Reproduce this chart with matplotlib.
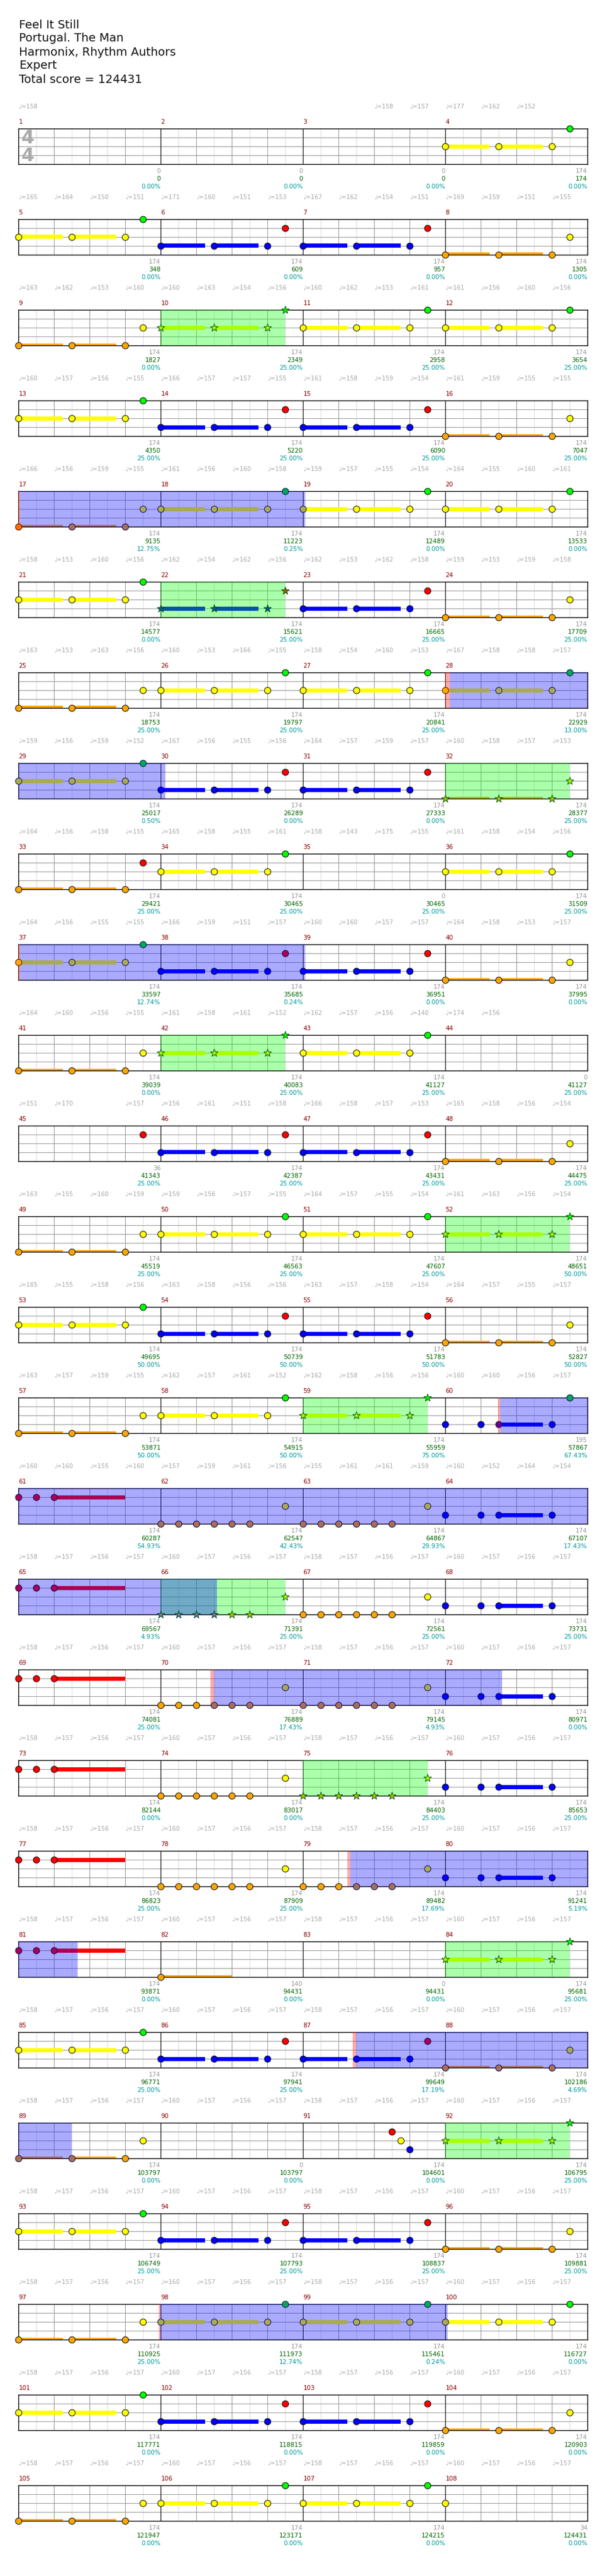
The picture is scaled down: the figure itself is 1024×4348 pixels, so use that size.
import matplotlib
matplotlib.use("Agg")
import matplotlib.pyplot as plt
import matplotlib.transforms as mtransforms
from matplotlib.patches import Rectangle
import matplotlib.colors as mcolors

W, H, DPI = 1024, 4348, 100
STAFF_LEFT, STAFF_W, STAFF_H = 31, 960, 60
ROW0_TOP, ROW_STEP = 217, 153
N_ROWS = 27
BEATS_PER_ROW = 16
BEATS_PER_MEASURE = 4

title_lines = ["Feel It Still", "Portugal. The Man", "Harmonix, Rhythm Authors",
               "Expert", "Total score = 124431"]

# ---- note patterns (lane letter + beat in measure, 's' = sustain of 1.25 beats, 'sL' = length L)
YG = "Y0s Y1.5s Y3 G3.5"
BR = "B0s B1.5s B3 R3.5"
OY = "O0s O1.5s O3 Y3.5"
OR = "O0s O1.5s O3 R3.5"
CR = "R0 R0.5 R1s2"
CO = "O0 O0.5 O1 O1.5 O2 O2.5 Y3.5"
CB = "B0 B1 B1.5s B3"

measure_notes = [
    "", "", "", YG,
    YG, BR, BR, OY,
    OY, YG, YG, YG,
    YG, BR, BR, OY,
    OY, YG, YG, YG,
    YG, BR, BR, OY,
    OY, YG, YG, YG,
    YG, BR, BR, OY,
    OR, YG, "", YG,
    YG, BR, BR, OY,
    OY, YG, YG, "",
    "R3.5", BR, BR, OY,
    OY, YG, YG, YG,
    YG, BR, BR, OY,
    OY, YG, YG, "B0 B1 B1.5s B3 G3.5",
    CR, CO, CO, CB,
    CR, CO, CO, CB,
    CR, CO, CO, CB,
    CR, CO, CO, CB,
    CR, CO, CO, CB,
    CR, "O0s2", "", YG,
    YG, BR, BR, OY,
    OY, "", "R2.5 Y2.75 B3", YG,
    YG, BR, BR, OY,
    OY, YG, YG, YG,
    YG, BR, BR, OY,
    OY, YG, YG, "Y0",
]

measure_score = [0, 0, 0, 174, 174, 174, 174, 174, 174, 174, 174, 174,
                 174, 174, 174, 174, 174, 174, 174, 174, 174, 174, 174, 174,
                 174, 174, 174, 174, 174, 174, 174, 174, 174, 174, 0, 174,
                 174, 174, 174, 174, 174, 174, 174, 0, 36, 174, 174, 174,
                 174, 174, 174, 174, 174, 174, 174, 174, 174, 174, 174, 195,
                 174, 174, 174, 174, 174, 174, 174, 174, 174, 174, 174, 174,
                 174, 174, 174, 174, 174, 174, 174, 174, 174, 140, 0, 174,
                 174, 174, 174, 174, 174, 0, 174, 174, 174, 174, 174, 174,
                 174, 174, 174, 174, 174, 174, 174, 174, 174, 174, 174, 34]

running_score = [0, 0, 0, 174, 348, 609, 957, 1305, 1827, 2349, 2958, 3654,
                 4350, 5220, 6090, 7047, 9135, 11223, 12489, 13533, 14577, 15621, 16665, 17709,
                 18753, 19797, 20841, 22929, 25017, 26289, 27333, 28377, 29421, 30465, 30465, 31509,
                 33597, 35685, 36951, 37995, 39039, 40083, 41127, 41127, 41343, 42387, 43431, 44475,
                 45519, 46563, 47607, 48651, 49695, 50739, 51783, 52827, 53871, 54915, 55959, 57867,
                 60287, 62547, 64867, 67107, 69567, 71391, 72561, 73731, 74081, 76889, 79145, 80971,
                 82144, 83017, 84403, 85653, 86823, 87909, 89482, 91241, 93871, 94431, 94431, 95681,
                 96771, 97941, 99649, 102186, 103797, 103797, 104601, 106795, 106749, 107793, 108837, 109881,
                 110925, 111973, 115461, 116727, 117771, 118815, 119859, 120903, 121947, 123171, 124215, 124431]

sp_percent = (["0.00%"] * 9 + ["25.00%"] * 7 + ["12.75%", "0.25%", "0.00%", "0.00%", "0.00%"]
              + ["25.00%"] * 6 + ["13.00%", "0.50%", "0.00%", "0.00%"] + ["25.00%"] * 5
              + ["12.74%", "0.24%", "0.00%", "0.00%", "0.00%"] + ["25.00%"] * 10
              + ["50.00%"] * 7 + ["75.00%", "67.43%"]
              + ["54.93%", "42.43%", "29.93%", "17.43%", "4.93%", "25.00%", "25.00%", "25.00%",
                 "25.00%", "17.43%", "4.93%", "0.00%", "0.00%", "0.00%", "25.00%", "25.00%",
                 "25.00%", "25.00%", "17.69%", "5.19%", "0.00%", "0.00%", "0.00%", "25.00%",
                 "25.00%", "25.00%", "17.19%", "4.69%", "0.00%", "0.00%", "0.00%", "25.00%",
                 "25.00%", "25.00%", "25.00%", "25.00%", "25.00%", "12.74%", "0.24%", "0.00%",
                 "0.00%", "0.00%", "0.00%", "0.00%", "0.00%", "0.00%", "0.00%", "0.00%"])

N = None
tempo_rows = [
    [158, N, N, N, N, N, N, N, N, N, 158, 157, 177, 162, 152, N],
    [165, 164, 150, 151, 171, 160, 151, 153, 167, 162, 154, 151, 169, 159, 151, 155],
    [163, 162, 153, 160, 160, 163, 154, 156, 160, 162, 153, 161, 161, 156, 160, 156],
    [160, 157, 156, 155, 166, 157, 157, 155, 161, 158, 159, 154, 161, 159, 155, 155],
    [166, 156, 159, 155, 161, 156, 160, 158, 159, 157, 155, 154, 164, 155, 160, 161],
    [158, 153, 160, 156, 162, 154, 162, 156, 162, 153, 162, 158, 159, 153, 159, 158],
    [163, 153, 163, 156, 160, 153, 166, 155, 158, 154, 160, 153, 167, 158, 158, 157],
    [159, 156, 159, 152, 167, 156, 155, 156, 164, 157, 159, 157, 160, 158, 157, 153],
    [164, 156, 158, 155, 165, 158, 155, 161, 158, 143, 175, 155, 161, 158, 154, 156],
    [164, 156, 155, 155, 166, 159, 151, 157, 160, 160, 157, 157, 164, 158, 153, 157],
    [164, 160, 156, 155, 161, 158, 161, 152, 162, 157, 156, 140, 174, 156, N, N],
    [151, 170, N, 157, 156, 161, 151, 158, 166, 158, 157, 153, 165, 158, 156, 154],
    [163, 155, 160, 159, 159, 156, 157, 155, 164, 157, 155, 154, 161, 163, 156, 154],
    [165, 155, 158, 156, 163, 158, 156, 156, 163, 157, 158, 154, 164, 157, 155, 157],
    [163, 157, 159, 155, 162, 157, 161, 152, 162, 158, 156, 156, 160, 160, 156, 157],
    [160, 160, 155, 160, 157, 159, 161, 156, 155, 161, 161, 159, 160, 152, 164, 154],
    [158, 157, 156, 157, 160, 157, 156, 157, 158, 157, 156, 157, 160, 157, 156, 157],
    [158, 157, 156, 157, 160, 157, 156, 157, 158, 157, 156, 157, 160, 157, 156, 157],
    [158, 157, 156, 157, 160, 157, 156, 157, 158, 157, 156, 157, 160, 157, 156, 157],
    [158, 157, 156, 157, 160, 157, 156, 157, 158, 157, 156, 157, 160, 157, 156, 157],
    [158, 157, 156, 157, 160, 157, 156, 157, 158, 157, 156, 157, 160, 157, 156, 157],
    [158, 157, 156, 157, 160, 157, 156, 157, 158, 157, 156, 157, 160, 157, 156, 157],
    [158, 157, 156, 157, 160, 157, 156, 157, 158, 157, 156, 157, 160, 157, 156, 157],
    [158, 157, 156, 157, 160, 157, 156, 157, 158, 157, 156, 157, 160, 157, 156, 157],
    [158, 157, 156, 157, 160, 157, 156, 157, 158, 157, 156, 157, 160, 157, 156, 157],
    [158, 157, 156, 157, 160, 157, 156, 157, 158, 157, 156, 157, 160, 157, 156, 157],
    [158, 157, 156, 157, 160, 157, 156, 157, 158, 157, 156, 157, 160, 157, 156, 157],
]

# star power phrases and activations, in song beats
sp_phrases = [(36, 39.5), (84, 87.5), (124, 127.5), (164, 167.5), (204, 207.5), (232, 235.5),
              (260, 263.5), (296, 299.5), (332, 335.5), (364, 367.5)]
activations = [(64.0, 64.05, 72.06), (108.0, 108.14, 116.14), (144.0, 144.05, 152.06),
               (237.49, 237.55, 261.58), (277.4, 277.5, 285.6), (313.25, 313.34, 321.66),
               (345.4, 345.5, 353.5), (387.95, 388.0, 396.06)]

LANE = {'G': 0, 'R': 1, 'Y': 2, 'B': 3, 'O': 4}
COLOR = {'G': '#00ff00', 'R': '#ff0000', 'Y': '#ffff00', 'B': '#0000ff', 'O': '#ffa500'}
GREEN_OV, BLUE_OV, RED_OV = '#00ff00', '#0000ff', '#ff0000'
ALPHA = 1.0 / 3.0


def parse_notes():
    notes = []
    for mi, s in enumerate(measure_notes):
        for tok in s.split():
            lane, rest = tok[0], tok[1:]
            sus = 0.0
            if 's' in rest:
                b, l = rest.split('s')
                sus = float(l) if l else 1.25
            else:
                b = rest
            notes.append((lane, mi * BEATS_PER_MEASURE + float(b), sus))
    return notes


def blend(c, o, a=ALPHA):
    c = mcolors.to_rgb(c)
    o = mcolors.to_rgb(o)
    return tuple(ci * (1 - a) + oi * a for ci, oi in zip(c, o))


def tint(color, beat):
    c = color
    for s, e in sp_phrases:
        if s - 1e-6 <= beat <= e + 1e-6:
            c = blend(c, GREEN_OV)
    for r0, b0, b1 in activations:
        if b0 <= beat <= b1:
            c = blend(c, BLUE_OV)
        elif r0 - 1e-6 <= beat < b0:
            c = blend(c, RED_OV)
    return c


def in_sp(beat):
    return any(s - 1e-6 <= beat <= e + 1e-6 for s, e in sp_phrases)


def split_by_row(a, b):
    out = []
    r = int(a // BEATS_PER_ROW)
    while a < b:
        end = min(b, (r + 1) * BEATS_PER_ROW)
        out.append((r, a - r * BEATS_PER_ROW, end - r * BEATS_PER_ROW))
        a = end
        r += 1
    return out


notes = parse_notes()

fig = plt.figure(figsize=(W / DPI, H / DPI), dpi=DPI)
fig.patch.set_facecolor('white')

TXT = ['DejaVu Sans']
for i, line in enumerate(title_lines):
    fig.text(32 / W, 1 - (42 + 23 * i) / H, line, fontsize=14, family=TXT,
             ha='left', va='center', color='#111111')

px = 0.72  # one pixel in points
axes = []
for r in range(N_ROWS):
    top = ROW0_TOP + r * ROW_STEP
    ax = fig.add_axes([STAFF_LEFT / W, 1 - (top + STAFF_H) / H, STAFF_W / W, STAFF_H / H])
    ax.set_xlim(0, BEATS_PER_ROW)
    ax.set_ylim(4, 0)
    ax.set_xticks([])
    ax.set_yticks([])
    for sp in ax.spines.values():
        sp.set_linewidth(1.4 * px)
        sp.set_color('black')
        sp.set_zorder(2.5)
    for k in range(1, 2 * BEATS_PER_ROW):
        x = k / 2
        if k % 8 == 0:
            col = 'black'
        elif k % 2 == 0:
            col = '#999999'
        else:
            col = '#dddddd'
        ax.axvline(x, color=col, lw=px, zorder=1 if col != 'black' else 1.5)
    for ln in (1, 2, 3):
        ax.axhline(ln, color='#999999', lw=px, zorder=1.2)
    axes.append(ax)

    tr = mtransforms.blended_transform_factory(ax.transData, ax.transAxes)
    # tempo markings
    for bi, t in enumerate(tempo_rows[r]):
        if t is None:
            continue
        ax.text(bi, 1 + 37 / STAFF_H, "\u2669=%d" % t, transform=tr, fontsize=7.2,
                color='#a8a8a8', ha='left', va='center', family=TXT, clip_on=False)
    # measure numbers and scores
    for mj in range(4):
        mi = r * 4 + mj
        x0 = mj * BEATS_PER_MEASURE
        x1 = x0 + BEATS_PER_MEASURE
        ax.text(x0 + 0.01, 1 + 11 / STAFF_H, str(mi + 1), transform=tr, fontsize=7.5,
                color='#8b0000', ha='left', va='center', family=TXT, clip_on=False)
        ax.text(x1, -12 / STAFF_H, str(measure_score[mi]), transform=tr, fontsize=7.5,
                color='#999999', ha='right', va='center', family=TXT, clip_on=False)
        ax.text(x1, -25 / STAFF_H, str(running_score[mi]), transform=tr, fontsize=7.5,
                color='#006400', ha='right', va='center', family=TXT, clip_on=False)
        ax.text(x1, -38 / STAFF_H, sp_percent[mi], transform=tr, fontsize=7.5,
                color='#009999', ha='right', va='center', family=TXT, clip_on=False)

# time signature on the first row
axes[0].text(0.08, 1.07, "4", fontsize=23, fontweight='bold', color='#aaaaaa',
             ha='left', va='center', family=TXT, zorder=1.6)
axes[0].text(0.08, 3.07, "4", fontsize=23, fontweight='bold', color='#aaaaaa',
             ha='left', va='center', family=TXT, zorder=1.6)

# sustains
BAR_H = 7 / 15
for lane, beat, sus in notes:
    if sus <= 0:
        continue
    for r, a, b in split_by_row(beat, beat + sus):
        axes[r].add_patch(Rectangle((a, LANE[lane] - BAR_H / 2), b - a, BAR_H,
                                    facecolor=COLOR[lane], edgecolor='none', zorder=2))

# overlays
for s, e in sp_phrases:
    for r, a, b in split_by_row(s, e):
        axes[r].add_patch(Rectangle((a, 0), b - a, 4, facecolor=GREEN_OV, alpha=ALPHA,
                                    edgecolor='none', zorder=3))
for r0, b0, b1 in activations:
    for r, a, b in split_by_row(r0, b0):
        axes[r].add_patch(Rectangle((a, 0), b - a, 4, facecolor=RED_OV, alpha=ALPHA,
                                    edgecolor='none', zorder=3))
    for r, a, b in split_by_row(b0, b1):
        axes[r].add_patch(Rectangle((a, 0), b - a, 4, facecolor=BLUE_OV, alpha=ALPHA,
                                    edgecolor='none', zorder=3))

# notes
for lane, beat, sus in notes:
    r = int(beat // BEATS_PER_ROW)
    x = beat - r * BEATS_PER_ROW
    fc = tint(COLOR[lane], beat)
    ec = tint('#000000', beat)
    if in_sp(beat):
        axes[r].scatter([x], [LANE[lane]], s=95, marker='*', facecolors=[fc],
                        edgecolors=[ec], linewidths=0.7, zorder=4, clip_on=False)
    else:
        axes[r].scatter([x], [LANE[lane]], s=60, marker='o', facecolors=[fc],
                        edgecolors=[ec], linewidths=0.7, zorder=4, clip_on=False)

fig.savefig("out.png", dpi=DPI, facecolor='white')
